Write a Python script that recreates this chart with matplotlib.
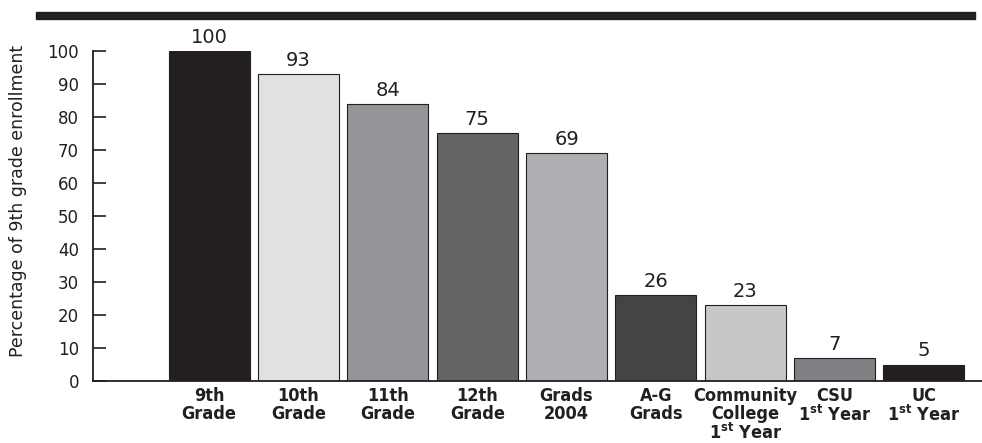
import matplotlib.pyplot as plt
from matplotlib.patches import Rectangle

categories = ["9th\nGrade", "10th\nGrade", "11th\nGrade", "12th\nGrade", "Grads\n2004",
              "A-G\nGrads", "Community\nCollege\n1$^{\\mathrm{st}}$ Year",
              "CSU\n1$^{\\mathrm{st}}$ Year", "UC\n1$^{\\mathrm{st}}$ Year"]
values = [100, 93, 84, 75, 69, 26, 23, 7, 5]
colors = ["#231f20", "#e0e1e3", "#939598", "#636466", "#aeafb2",
          "#434446", "#c6c7c9", "#808184", "#231f20"]
yticks = [0, 10, 20, 30, 40, 50, 60, 70, 80, 90, 100]

plt.rcParams["mathtext.fontset"] = "custom"
plt.rcParams["mathtext.rm"] = "DejaVu Sans:weight=bold:stretch=condensed"

fig = plt.figure(figsize=(9.82, 4.43), dpi=100)
ax = fig.add_axes([93 / 982, 1 - 381 / 443, 1 - 93 / 982, 330 / 443])

x = list(range(len(values)))
ax.bar(x, values, width=0.906, color=colors, edgecolor="#231f20", linewidth=0.8, zorder=2)

# value labels above bars
for xi, v in zip(x, values):
    ax.annotate(str(v), (xi, v), xytext=(0, 3), textcoords="offset points",
                ha="center", va="bottom", fontsize=14, family="DejaVu Sans",
                color="#231f20", annotation_clip=False)

ax.set_xlim(-1.30, 8.65)
ax.set_ylim(0, 100)

ax.spines["top"].set_visible(False)
ax.spines["right"].set_visible(False)
ax.spines["left"].set_linewidth(1.3)
ax.spines["bottom"].set_linewidth(1.3)
ax.spines["left"].set_color("#231f20")
ax.spines["bottom"].set_color("#231f20")

ax.set_yticks(yticks)
ax.set_yticklabels([str(t) for t in yticks], family="DejaVu Sans", fontsize=12, color="#231f20")
ax.tick_params(axis="y", direction="in", length=9, width=1.2, pad=10, color="#231f20")

ax.set_xticks(x)
ax.set_xticklabels(categories, family="DejaVu Sans", fontstretch="condensed", fontweight="bold",
                   fontsize=13, linespacing=1.02, color="#231f20")
ax.tick_params(axis="x", length=0, pad=4)

fig.text(18 / 982, 1 - 201 / 443, "Percentage of 9th grade enrollment", rotation=90,
         ha="center", va="center", fontsize=12.5, family="DejaVu Sans", color="#231f20")

# heavy rule across the top
fig.patches.append(Rectangle((36 / 982, 1 - 19 / 443), (975 - 36) / 982, 7 / 443,
                             transform=fig.transFigure, color="#231f20", zorder=5))

fig.savefig("out.png", dpi=100)
